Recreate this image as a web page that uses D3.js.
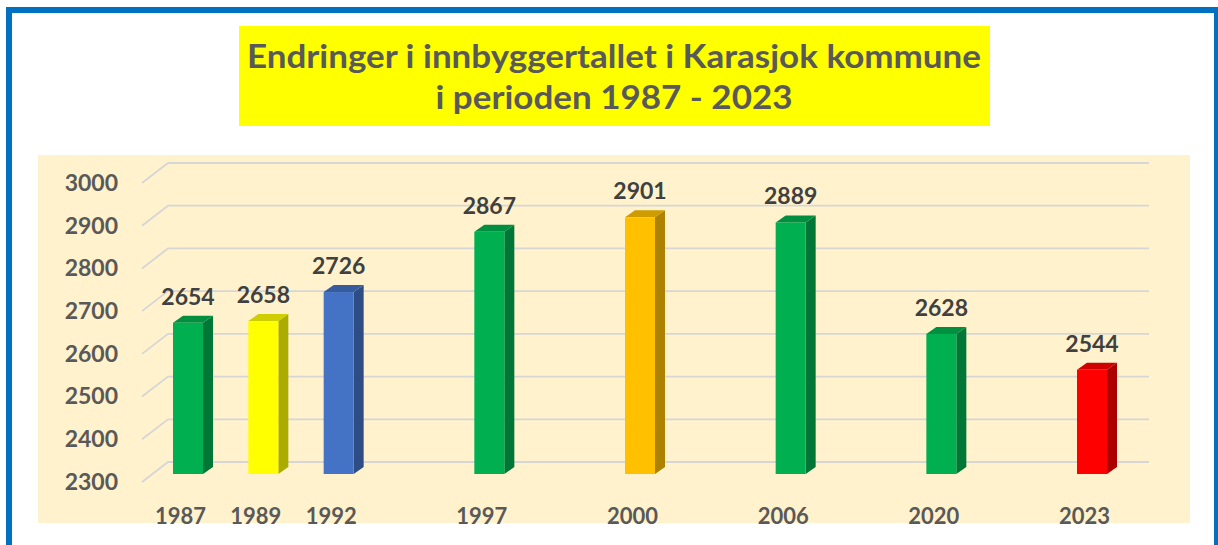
<!DOCTYPE html>
<html>
<head>
<meta charset="utf-8">
<script src="https://cdn.jsdelivr.net/npm/d3@7"></script>
<style>
  body { margin: 0; background: #fff; }
  svg { display: block; }
  text { font-family: Lato, "Open Sans", sans-serif; font-weight: bold; }
</style>
</head>
<body>
<div id="chart"></div>
<script>
// blank categories are the empty slots Excel leaves between the years
const categories = ["1987", "1989", "1992", "", "1997", "", "2000", "", "2006", "", "2020", "", "2023"];
const population = [2654, 2658, 2726, null, 2867, null, 2901, null, 2889, null, 2628, null, 2544];
const barColors = ["#00B050", "#FFFF00", "#4472C4", null, "#00B050", null, "#FFC000", null, "#00B050", null, "#00B050", null, "#FF0000"];
const yTicks = [2300, 2400, 2500, 2600, 2700, 2800, 2900, 3000];
const titleLines = ["Endringer i innbyggertallet i Karasjok kommune", "i perioden 1987 - 2023"];

var width = 1218,
  height = 545;

var svg = d3.select('#chart').append('svg')
  .attr('width', width)
  .attr('height', height);

// outer frame
svg.append('rect')
  .attr('x', 9).attr('y', 10)
  .attr('width', 1208).attr('height', 600)
  .attr('fill', '#fff')
  .attr('stroke', '#0070C0')
  .attr('stroke-width', 6);

// title box
svg.append('rect')
  .attr('x', 239).attr('y', 26)
  .attr('width', 751).attr('height', 100)
  .attr('fill', '#FFFF00');

var title = svg.append('g').selectAll('text')
  .data(titleLines)
  .join('text')
    .attr('x', 614)
    .attr('y', function(d, i) { return 68 + i * 41; })
    .attr('text-anchor', 'middle')
    .attr('font-size', 32)
    .attr('fill', '#595959')
    .text(function(d) { return d; });

// fit the first line to the box width, narrow like the original
var natural = title.node().getComputedTextLength();
title.attr('textLength', function() { return this.getComputedTextLength() * 734 / natural; })
  .attr('lengthAdjust', 'spacingAndGlyphs');

// plot area
svg.append('rect')
  .attr('x', 38).attr('y', 155)
  .attr('width', 1152).attr('height', 368)
  .attr('fill', '#FFF2CC');

var depthX = 26, depthY = -20;   // floor front -> back wall
var barOffX = 8, barOffY = -8;    // floor front -> bar front face
var barDX = 10, barDY = -7;       // bar depth
var barW = 30;

var x = d3.scalePoint()
  .domain(d3.range(categories.length))
  .range([180, 1084]);

var y = d3.scaleLinear()
  .domain([2300, 3000])
  .range([482, 183]);

// gridlines: diagonal on the side wall then along the back wall
svg.append('g').selectAll('path')
  .data(yTicks)
  .join('path')
    .attr('d', function(d) {
      return 'M142,' + y(d) + 'L' + (142 + depthX) + ',' + (y(d) + depthY) + 'L1149,' + (y(d) + depthY);
    })
    .attr('fill', 'none')
    .attr('stroke', '#D6D6D6')
    .attr('stroke-width', 1.8);

var yAxis = svg.append('g')
  .attr('transform', 'translate(118,0)')
  .call(d3.axisLeft(y).tickValues(yTicks).tickFormat(d3.format('d')).tickSize(0).tickPadding(0));
yAxis.select('.domain').remove();
yAxis.selectAll('text')
  .attr('font-size', 23)
  .attr('font-family', null)
  .attr('fill', '#595959');

var xAxis = svg.append('g')
  .attr('transform', 'translate(0,508)')
  .call(d3.axisBottom(x).tickSize(0).tickPadding(0).tickFormat(function(i) { return categories[i]; }));
xAxis.select('.domain').remove();
xAxis.selectAll('text')
  .attr('font-size', 22)
  .attr('font-family', null)
  .attr('fill', '#595959');

var bars = d3.range(categories.length).filter(function(i) { return population[i] != null; });

var g = svg.append('g');
var bar = g.selectAll('g.bar')
  .data(bars)
  .join('g')
    .attr('class', 'bar');

function face(i) {
  var x0 = x(i) + barOffX - barW / 2,
    top = y(population[i]) + barOffY,
    bottom = y(2300) + barOffY;
  return { x0: x0, x1: x0 + barW, top: top, bottom: bottom };
}

bar.append('path')
  .attr('d', function(i) {
    var f = face(i);
    return 'M' + f.x1 + ',' + f.top + 'L' + (f.x1 + barDX) + ',' + (f.top + barDY) +
      'L' + (f.x1 + barDX) + ',' + (f.bottom + barDY) + 'L' + f.x1 + ',' + f.bottom + 'Z';
  })
  .attr('fill', function(i) { return d3.color(barColors[i]).darker(1.1); });

bar.append('path')
  .attr('d', function(i) {
    var f = face(i);
    return 'M' + f.x0 + ',' + f.top + 'L' + (f.x0 + barDX) + ',' + (f.top + barDY) +
      'L' + (f.x1 + barDX) + ',' + (f.top + barDY) + 'L' + f.x1 + ',' + f.top + 'Z';
  })
  .attr('fill', function(i) { return d3.color(barColors[i]).darker(0.6); });

bar.append('rect')
  .attr('x', function(i) { return face(i).x0; })
  .attr('y', function(i) { return face(i).top; })
  .attr('width', barW)
  .attr('height', function(i) { var f = face(i); return f.bottom - f.top; })
  .attr('fill', function(i) { return barColors[i]; });

bar.append('text')
  .attr('x', function(i) { return x(i) + barOffX; })
  .attr('y', function(i) { return face(i).top - 18; })
  .attr('text-anchor', 'middle')
  .attr('font-size', 23)
  .attr('fill', '#404040')
  .text(function(i) { return population[i]; });
</script>
</body>
</html>
